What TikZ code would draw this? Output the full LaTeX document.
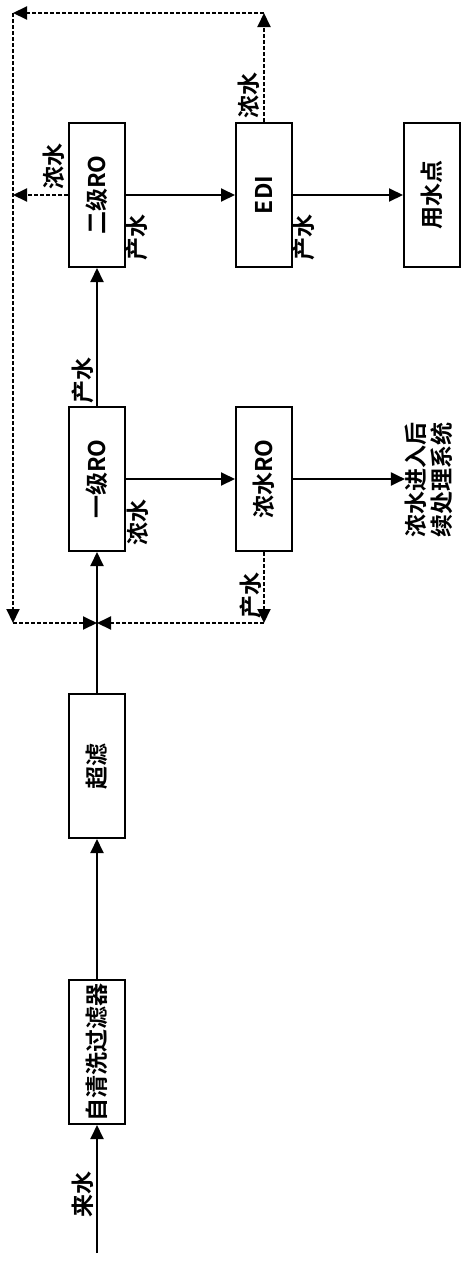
\documentclass[tikz,border=0pt]{standalone}
\usepackage{fontspec}
\usepackage{graphicx}
\setmainfont{Noto Sans CJK SC}[BoldFont={Noto Sans CJK SC Bold}]
\usetikzlibrary{arrows.meta}

\begin{document}
\begin{tikzpicture}[x=1pt,y=-1pt]
    \tikzstyle{unit}=[draw,line width=2pt,minimum width=56pt,minimum height=144pt,inner sep=1pt,font=\fontsize{23}{26}\selectfont\bfseries]
    \tikzstyle{lbl}=[rotate=90,inner sep=0pt,font=\fontsize{23}{26}\selectfont\bfseries]
    \tikzstyle{flow}=[line width=2pt,-{Triangle[length=14pt,width=13pt]}]
    \tikzstyle{back}=[flow,dash pattern=on 4pt off 2pt]
    \useasboundingbox (0,0) rectangle (471,1261);
    \node[unit] (filt) at (97,1052) {\rotatebox{90}{自清洗过滤器}};
    \node[unit] (uf) at (97,766) {\rotatebox{90}{超滤}};
    \node[unit] (ro1) at (97,479) {\rotatebox{90}{一级RO}};
    \node[unit] (ro2) at (97,195) {\rotatebox{90}{二级RO}};
    \node[unit] (cro) at (264,479) {\rotatebox{90}{浓水RO}};
    \node[unit] (edi) at (264,195) {\rotatebox{90}{EDI}};
    \node[unit] (use) at (432,195) {\rotatebox{90}{用水点}};
    \node[lbl,align=left] (out) at (429,480) {浓水进入后\\续处理系统};
    \coordinate (src) at (97,1253);
    \coordinate (j) at (97,623);
    \coordinate (tl) at (13,13);
    \coordinate (tr) at (264,13);
    \coordinate (bl) at (13,623);
    \coordinate (br) at (264,623);
    \draw[flow] (src) -- (filt.south);
    \draw[flow] (filt.north) -- (uf.south);
    \draw[flow] (uf.north) -- (ro1.south);
    \draw[flow] (ro1.north) -- (ro2.south);
    \draw[flow] (ro1.east) -- (cro.west);
    \draw[flow] (cro.east) -- (cro.east -| out.north);
    \draw[flow] (ro2.east) -- (edi.west);
    \draw[flow] (edi.east) -- (use.west);
    \draw[back] (edi.north) -- (tr);
    \draw[back] (tr) -- (tl);
    \draw[back] (tl) -- (bl);
    \draw[back] (bl) -- (j);
    \draw[back] (ro2.west) -- (ro2.west -| tl);
    \draw[back] (cro.south) -- (br);
    \draw[back] (br) -- (j);
    \node[lbl] (l1) at (83,1194) {来水};
    \node[lbl] (l2) at (83,380) {产水};
    \node[lbl] (l3) at (138,522) {浓水};
    \node[lbl] (l4) at (251,595) {产水};
    \node[lbl] (l5) at (54,166) {浓水};
    \node[lbl] (l6) at (137,237) {产水};
    \node[lbl] (l7) at (249,95) {浓水};
    \node[lbl] (l8) at (304,237) {产水};
\end{tikzpicture}
\end{document}
